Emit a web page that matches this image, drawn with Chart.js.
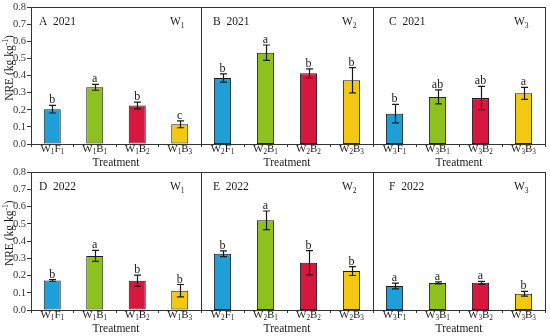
<!DOCTYPE html>
<html>
<head>
<meta charset="utf-8">
<script src="https://cdn.jsdelivr.net/npm/chart.js@4.4.1/dist/chart.umd.min.js"></script>
<style>
  html, body { margin: 0; padding: 0; background: #fff; }
  #fig { position: relative; width: 550px; height: 336px; overflow: hidden; background: #fff; }
  #fig canvas { position: absolute; }
</style>
</head>
<body>
<div id="fig"></div>
<script>
// ── data ──────────────────────────────────────────────────────────────────
const Y_TICKS = [0.0, 0.1, 0.2, 0.3, 0.4, 0.5, 0.6, 0.7, 0.8];

const CATS_W1 = ["W_1F_1", "W_1B_1", "W_1B_2", "W_1B_3"];
const CATS_W2 = ["W_2F_1", "W_2B_1", "W_2B_2", "W_2B_3"];
const CATS_W3 = ["W_3F_1", "W_3B_1", "W_3B_2", "W_3B_3"];

const NRE_2021_W1 = [0.203, 0.331, 0.225, 0.115];
const ERR_2021_W1 = [0.022, 0.017, 0.020, 0.020];
const SIG_2021_W1 = ["b", "a", "b", "c"];

const NRE_2021_W2 = [0.385, 0.533, 0.413, 0.372];
const ERR_2021_W2 = [0.024, 0.045, 0.026, 0.074];
const SIG_2021_W2 = ["b", "a", "b", "b"];

const NRE_2021_W3 = [0.177, 0.275, 0.268, 0.296];
const ERR_2021_W3 = [0.054, 0.041, 0.068, 0.035];
const SIG_2021_W3 = ["b", "ab", "ab", "a"];

const NRE_2022_W1 = [0.172, 0.314, 0.170, 0.112];
const ERR_2022_W1 = [0.005, 0.032, 0.033, 0.036];
const SIG_2022_W1 = ["b", "a", "b", "b"];

const NRE_2022_W2 = [0.326, 0.520, 0.274, 0.226];
const ERR_2022_W2 = [0.017, 0.054, 0.070, 0.026];
const SIG_2022_W2 = ["b", "a", "b", "b"];

const NRE_2022_W3 = [0.139, 0.157, 0.158, 0.094];
const ERR_2022_W3 = [0.017, 0.006, 0.008, 0.014];
const SIG_2022_W3 = ["a", "a", "a", "b"];

const BAR_COLOURS = ["#1e9fd8", "#8cc21f", "#d8173f", "#f3c812"];
const INK = "#1a1a1a";
const FONT = '"Liberation Serif", "Times New Roman", serif';

// ── panel layout ──────────────────────────────────────────────────────────
const ROWS = [
  { top: 0,   height: 168, padTop: 7, axisH: 24 },
  { top: 166, height: 170, padTop: 6, axisH: 26 },
];
const COLS = [
  { left: 0,   width: 202, padRight: 1, yAxis: true,  titleDx: 8 },
  { left: 201, width: 173, padRight: 1, yAxis: false, titleDx: 12 },
  { left: 373, width: 177, padRight: 5, yAxis: false, titleDx: 16 },
];

const PANELS = [
  { row: 0, col: 0, tag: "A  2021", w: "W_1", cats: CATS_W1, values: NRE_2021_W1, errors: ERR_2021_W1, sig: SIG_2021_W1 },
  { row: 0, col: 1, tag: "B  2021", w: "W_2", cats: CATS_W2, values: NRE_2021_W2, errors: ERR_2021_W2, sig: SIG_2021_W2 },
  { row: 0, col: 2, tag: "C  2021", w: "W_3", cats: CATS_W3, values: NRE_2021_W3, errors: ERR_2021_W3, sig: SIG_2021_W3 },
  { row: 1, col: 0, tag: "D  2022", w: "W_1", cats: CATS_W1, values: NRE_2022_W1, errors: ERR_2022_W1, sig: SIG_2022_W1 },
  { row: 1, col: 1, tag: "E  2022", w: "W_2", cats: CATS_W2, values: NRE_2022_W2, errors: ERR_2022_W2, sig: SIG_2022_W2 },
  { row: 1, col: 2, tag: "F  2022", w: "W_3", cats: CATS_W3, values: NRE_2022_W3, errors: ERR_2022_W3, sig: SIG_2022_W3 },
];

// ── helpers ───────────────────────────────────────────────────────────────

/** Draw text with _x subscripts and ^{..} superscripts. */
function drawRich(ctx, str, x, y, size, align) {
  const parts = [];
  str.replace(/_(.)|\^\{([^}]*)\}|([^_^]+)/g, (m, sub, sup, txt) => {
    if (sub) parts.push({ t: sub, k: "sub" });
    else if (sup !== undefined) parts.push({ t: sup, k: "sup" });
    else parts.push({ t: txt, k: "" });
    return m;
  });
  const small = size * 0.66;
  const fontFor = (k) => `${k ? small : size}px ${FONT}`;
  let total = 0;
  parts.forEach((p) => { ctx.font = fontFor(p.k); p.w = ctx.measureText(p.t).width; total += p.w; });
  let cx = align === "center" ? x - total / 2 : x;
  ctx.textAlign = "left";
  ctx.textBaseline = "alphabetic";
  parts.forEach((p) => {
    ctx.font = fontFor(p.k);
    const dy = p.k === "sub" ? size * 0.22 : p.k === "sup" ? -size * 0.42 : 0;
    ctx.fillText(p.t, cx, y + dy);
    cx += p.w;
  });
}

const panelPlugin = {
  id: "panelDecor",
  afterDatasetsDraw(chart, args, opts) {
    const { ctx } = chart;
    const ds = chart.data.datasets[0];
    const meta = chart.getDatasetMeta(0);
    const y = chart.scales.y;
    ctx.save();
    ctx.strokeStyle = INK;
    ctx.fillStyle = INK;
    ctx.lineWidth = 1.2;
    meta.data.forEach((bar, i) => {
      const v = ds.data[i], e = ds.errors[i];
      const x = Math.round(bar.x) + 0.5;
      const yt = y.getPixelForValue(v + e);
      const yb = y.getPixelForValue(v - e);
      ctx.beginPath();
      ctx.moveTo(x, yt); ctx.lineTo(x, yb);
      ctx.moveTo(x - 3.5, yt); ctx.lineTo(x + 3.5, yt);
      ctx.moveTo(x - 3.5, yb); ctx.lineTo(x + 3.5, yb);
      ctx.stroke();
      ctx.font = `12px ${FONT}`;
      ctx.textAlign = "center";
      ctx.textBaseline = "alphabetic";
      ctx.fillText(ds.sig[i], bar.x, yt - 2);
    });
    ctx.restore();
  },
  afterDraw(chart, args, opts) {
    const { ctx, chartArea } = chart;
    const x = chart.scales.x;
    ctx.save();
    // frame
    ctx.strokeStyle = "#333";
    ctx.lineWidth = 1;
    ctx.strokeRect(Math.round(chartArea.left) + 0.5, Math.round(chartArea.top) + 0.5,
      Math.round(chartArea.right - chartArea.left), Math.round(chartArea.bottom - chartArea.top));
    ctx.fillStyle = INK;
    // category labels
    chart.data.labels.forEach((lab, i) => {
      drawRich(ctx, lab, x.getPixelForTick(i), chartArea.bottom + 8, 11, "center");
    });
    drawRich(ctx, "Treatment", (chartArea.left + chartArea.right) / 2, chartArea.bottom + 22, 11.5, "center");
    // panel tags
    drawRich(ctx, opts.tag, chartArea.left + opts.titleDx, chartArea.top + 18, 11.5, "left");
    drawRich(ctx, opts.w, chartArea.right - 31, chartArea.top + 18, 11.5, "left");
    if (opts.yAxis) {
      ctx.translate(13, chartArea.top + 61);
      ctx.rotate(-Math.PI / 2);
      drawRich(ctx, "NRE (kg kg^{-1})", 0, 0, 11.5, "center");
    }
    ctx.restore();
  },
};

// ── build charts ──────────────────────────────────────────────────────────
const fig = document.getElementById("fig");

PANELS.forEach((p) => {
  const r = ROWS[p.row], c = COLS[p.col];
  const canvas = document.createElement("canvas");
  canvas.width = c.width; canvas.height = r.height;
  canvas.style.left = c.left + "px"; canvas.style.top = r.top + "px";
  canvas.style.width = c.width + "px"; canvas.style.height = r.height + "px";
  fig.appendChild(canvas);

  new Chart(canvas, {
    type: "bar",
    data: {
      labels: p.cats,
      datasets: [{
        data: p.values,
        errors: p.errors,
        sig: p.sig,
        backgroundColor: BAR_COLOURS,
        borderColor: INK,
        borderWidth: 1,
        borderSkipped: false,
        barPercentage: 0.4,
        categoryPercentage: 1,
      }],
    },
    options: {
      responsive: false,
      animation: false,
      devicePixelRatio: 1,
      layout: { padding: { top: r.padTop, right: c.padRight, left: 0, bottom: 0 } },
      plugins: {
        legend: { display: false },
        tooltip: { enabled: false },
        panelDecor: { tag: p.tag, w: p.w, titleDx: c.titleDx, yAxis: c.yAxis },
      },
      scales: {
        x: {
          grid: { drawOnChartArea: false, tickLength: 3, color: "#333", offset: true },
          border: { color: "#333" },
          ticks: { display: false },
          afterFit: (s) => { s.height = r.axisH; },
        },
        y: {
          display: c.yAxis,
          min: 0, max: 0.8,
          afterBuildTicks: (s) => { s.ticks = Y_TICKS.map((v) => ({ value: v })); },
          ticks: {
            color: "#333",
            padding: 1,
            font: { family: FONT, size: 10.5, lineHeight: 1 },
            callback: (v) => Number(v).toFixed(1),
          },
          grid: { drawOnChartArea: false, tickLength: 4, color: "#333" },
          border: { color: "#333" },
          afterFit: (s) => { s.width = c.yAxis ? 31 : 0; },
        },
      },
    },
    plugins: [panelPlugin],
  });
});
</script>
</body>
</html>
